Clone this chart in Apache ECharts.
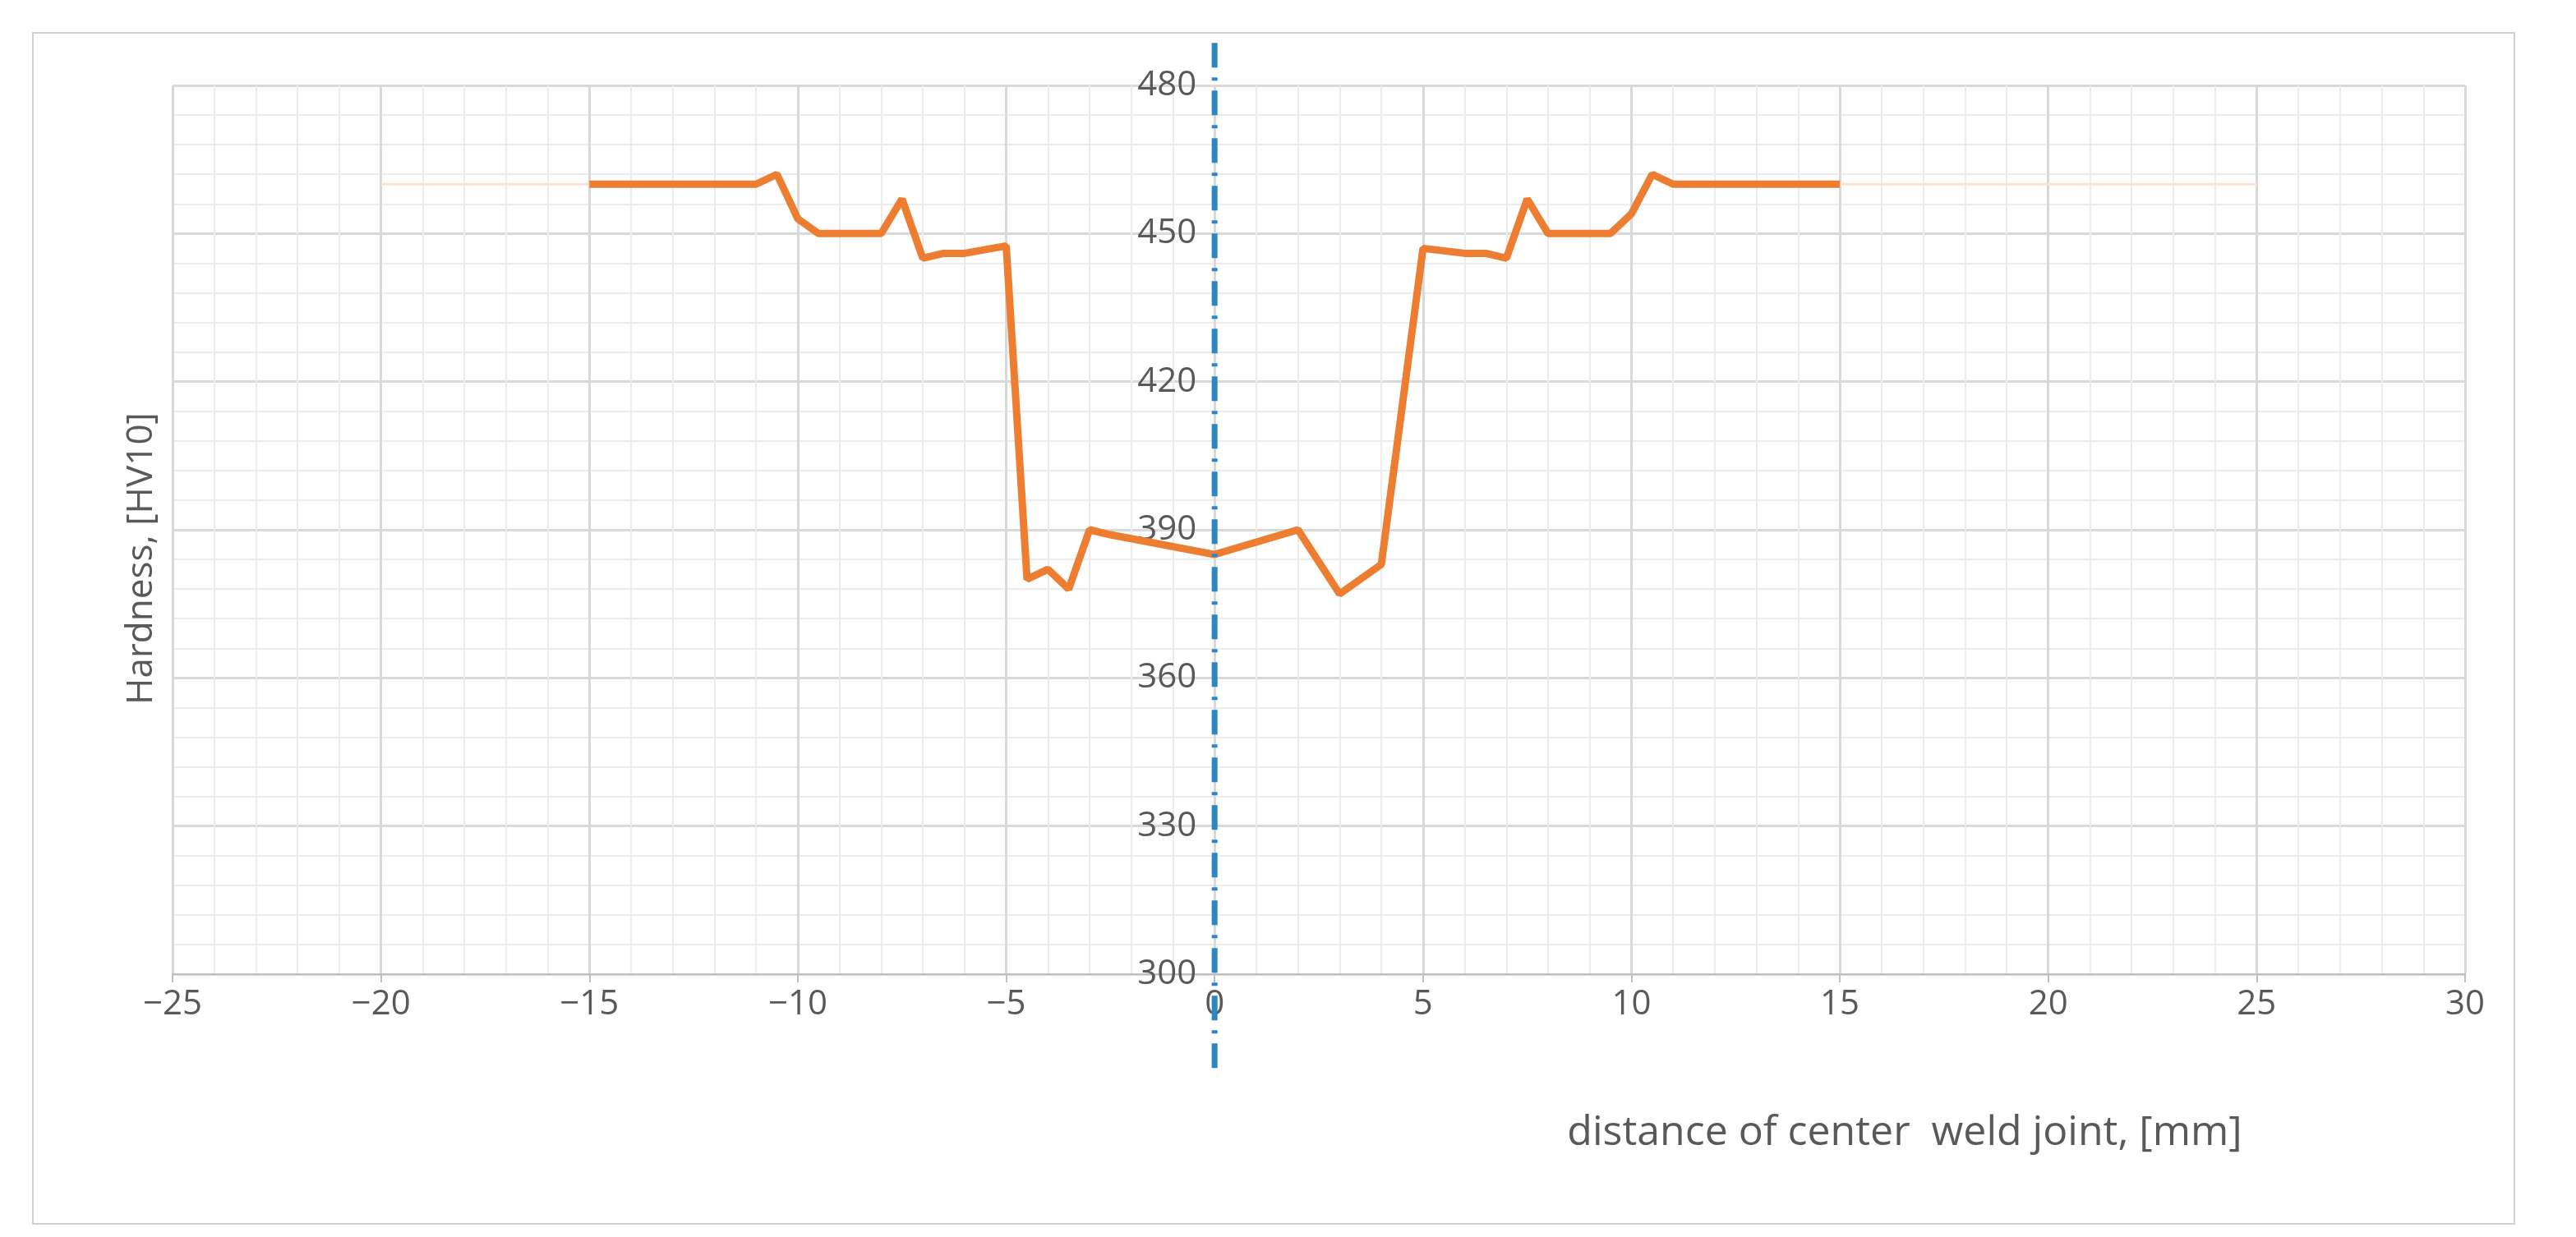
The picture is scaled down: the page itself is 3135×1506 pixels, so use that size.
<!DOCTYPE html>
<html>
<head>
<meta charset="utf-8">
<script src="https://cdn.jsdelivr.net/npm/echarts@6/dist/echarts.min.js"></script>
<style>html,body{margin:0;background:#fff}#c{width:3135px;height:1506px}</style>
</head>
<body>
<div id="c"></div>
<script>
// hardness profile across weld joint
const distance = [-15, -11, -10.5, -10, -9.5, -8, -7.5, -7, -6.5, -6, -5, -4.5, -4, -3.5, -3, -2.5, 0, 2, 3, 4, 5, 6, 6.5, 7, 7.5, 8, 9.5, 10, 10.5, 11, 15];
const hardness = [460, 460, 462, 453, 450, 450, 457, 445, 446, 446, 447.5, 380, 382, 378, 390, 389, 385, 390, 377, 383, 447, 446, 446, 445, 457, 450, 450, 454, 462, 460, 460];
const baseLeft = [[-20, 460], [-15, 460]];
const baseRight = [[15, 460], [25, 460]];
const centerLine = [[0, 281], [0, 490]];

const xMin = -25, xMax = 30;
const gridLeft = 210, gridRight = 135;
const plotW = 3135 - gridLeft - gridRight;

const chart = echarts.init(document.getElementById('c'));
const lbl = { color: '#595959', fontSize: 42, fontFamily: '"Liberation Sans Narrow", "Open Sans"' };
chart.setOption({
    backgroundColor: '#fff',
    animation: false,
    grid: { left: gridLeft, right: gridRight, top: 104, bottom: 320 },
    xAxis: {
        type: 'value', min: xMin, max: xMax, interval: 5,
        axisLine: { show: true, lineStyle: { color: '#bfbfbf', width: 2 } },
        axisTick: { show: true, length: 10, lineStyle: { color: '#bfbfbf', width: 2 } },
        axisLabel: Object.assign({ margin: 16, formatter: v => v < 0 ? '\u2212' + (-v) : '' + v }, lbl),
        splitLine: { show: true, lineStyle: { color: '#d9d9d9', width: 3 } },
        minorTick: { show: true, splitNumber: 5, length: 0 },
        minorSplitLine: { show: true, lineStyle: { color: '#ececec', width: 2 } }
    },
    yAxis: {
        type: 'value', min: 300, max: 480, interval: 30,
        // move the axis labels to x = 0
        offset: -plotW * (0 - xMin) / (xMax - xMin),
        axisLine: { show: false },
        axisTick: { show: false },
        axisLabel: Object.assign({ margin: 22 }, lbl),
        splitLine: { show: true, lineStyle: { color: '#d9d9d9', width: 3 } },
        minorTick: { show: true, splitNumber: 5, length: 0 },
        minorSplitLine: { show: true, lineStyle: { color: '#ececec', width: 2 } }
    },
    graphic: [
        { type: 'rect', shape: { x: 40, y: 40, width: 3020, height: 1450 }, style: { fill: 'none', stroke: '#d0d0d0', lineWidth: 2 } },
        { type: 'text', x: 172, y: 680, rotation: Math.PI / 2, style: { text: 'Hardness, [HV10]', fill: '#595959', font: '44px "Liberation Sans Narrow", "Open Sans"', align: 'center', verticalAlign: 'middle' } },
        { type: 'text', x: 2318, y: 1380, style: { text: 'distance of center  weld joint, [mm]', fill: '#595959', font: '50px "Liberation Sans Narrow", "Open Sans"', align: 'center', verticalAlign: 'middle' } }
    ],
    series: [
        { type: 'line', data: baseLeft, symbol: 'none', lineStyle: { color: '#fbe3d3', width: 3 } },
        { type: 'line', data: baseRight, symbol: 'none', lineStyle: { color: '#fbe3d3', width: 3 } },
        { type: 'line', data: distance.map((d, i) => [d, hardness[i]]), symbol: 'none', lineStyle: { color: '#ED7D31', width: 9 } },
        { type: 'line', data: centerLine, symbol: 'none', clip: false, lineStyle: { color: '#2E86C1', width: 7, type: [30, 12, 4, 12] }, z: 5 }
    ]
});
</script>
</body>
</html>
